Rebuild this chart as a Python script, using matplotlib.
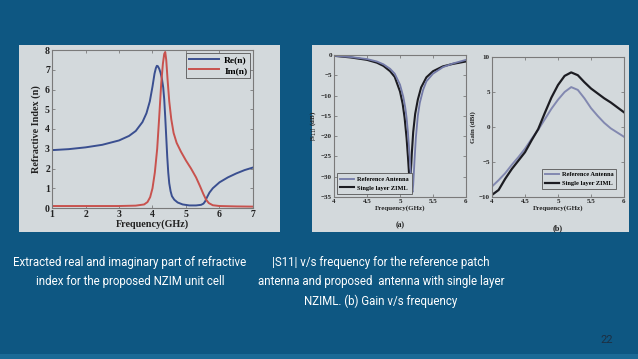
import matplotlib
matplotlib.use("Agg")
import matplotlib.pyplot as plt
from matplotlib.patches import Rectangle

# ---------------- data ----------------
f_re = [1.0, 1.5, 2.0, 2.5, 3.0, 3.3, 3.5, 3.7, 3.82, 3.92, 4.0, 4.06, 4.1, 4.13, 4.16,
        4.2, 4.24, 4.28, 4.32, 4.35, 4.38, 4.41, 4.44, 4.47, 4.5, 4.54, 4.58, 4.65, 4.75,
        4.9, 5.1, 5.3, 5.45, 5.52, 5.57, 5.62, 5.7, 5.8, 6.0, 6.25, 6.5, 6.75, 7.0]
re_n = [2.93, 2.98, 3.07, 3.2, 3.42, 3.65, 3.9, 4.35, 4.8, 5.4, 6.15, 6.8, 7.08, 7.2, 7.18,
        7.05, 6.85, 6.55, 6.1, 5.5, 4.6, 3.6, 2.6, 1.8, 1.25, 0.85, 0.6, 0.42, 0.28,
        0.18, 0.13, 0.13, 0.16, 0.22, 0.33, 0.52, 0.78, 1.0, 1.3, 1.55, 1.75, 1.92, 2.05]
f_im = [1.0, 2.0, 3.0, 3.5, 3.75, 3.85, 3.93, 4.0, 4.07, 4.14, 4.2, 4.26, 4.31, 4.35, 4.38,
        4.41, 4.45, 4.5, 4.56, 4.63, 4.72, 4.85, 5.0, 5.15, 5.3, 5.42, 5.52, 5.6, 5.68, 5.8,
        6.0, 6.5, 7.0]
im_n = [0.1, 0.1, 0.1, 0.12, 0.18, 0.3, 0.55, 1.0, 1.8, 3.0, 4.6, 6.3, 7.3, 7.8, 7.9,
        7.5, 6.5, 5.4, 4.5, 3.8, 3.3, 2.85, 2.4, 2.0, 1.55, 1.1, 0.7, 0.42, 0.25, 0.14,
        0.1, 0.08, 0.07]

f_s11_ref = [4.0, 4.25, 4.5, 4.65, 4.75, 4.85, 4.92, 5.0, 5.05, 5.08, 5.1, 5.12, 5.14, 5.16,
             5.18, 5.19, 5.2, 5.22, 5.24, 5.27, 5.3, 5.35, 5.4, 5.5, 5.65, 5.8, 6.0]
s11_ref = [-0.2, -0.5, -1.0, -1.6, -2.3, -3.4, -4.6, -7.3, -10.3, -13, -15.5, -19, -23.5,
           -28.5, -33, -33.8, -32, -26, -20.5, -15, -11.8, -8.6, -6.5, -4.6, -3.0, -2.1, -1.2]
f_s11_sl = [4.0, 4.25, 4.5, 4.65, 4.75, 4.85, 4.92, 5.0, 5.04, 5.07, 5.1, 5.12, 5.14, 5.15,
            5.16, 5.18, 5.2, 5.23, 5.27, 5.32, 5.4, 5.5, 5.65, 5.8, 6.0]
s11_sl = [-0.2, -0.6, -1.2, -1.9, -2.7, -4.0, -5.4, -9.0, -12, -15.5, -20.5, -25, -30, -31.5,
          -30, -24, -19, -14.5, -11, -8, -5.5, -4.0, -2.8, -2.2, -1.6]

f_gain = [4.0, 4.1, 4.2, 4.3, 4.4, 4.5, 4.6, 4.7, 4.8, 4.9, 5.0, 5.1, 5.2, 5.3, 5.4, 5.5,
          5.6, 5.7, 5.8, 5.9, 6.0]
gain_ref = [-8.5, -7.6, -6.6, -5.4, -4.3, -3.1, -1.7, -0.4, 1.1, 2.6, 3.9, 5.0, 5.7, 5.3,
            4.1, 2.7, 1.6, 0.6, -0.2, -0.8, -1.4]
gain_sl = [-9.7, -9.0, -7.4, -6.0, -4.8, -3.6, -1.9, -0.3, 2.0, 4.2, 6.0, 7.3, 7.8, 7.4,
           6.4, 5.5, 4.8, 4.1, 3.5, 2.8, 2.1]

left_ticks_x = [1, 2, 3, 4, 5, 6, 7]
left_ticks_y = [0, 1, 2, 3, 4, 5, 6, 7, 8]
s11_ticks_x = [4, 4.5, 5, 5.5, 6]
s11_tick_labels_x = ["4", "4.5", "5", "5.5", "6"]
s11_ticks_y = [0, -5, -10, -15, -20, -25, -30, -35]
gain_ticks_y = [-10, -5, 0, 5, 10]

caption_left = "Extracted real and imaginary part of refractive\nindex for the proposed NZIM unit cell"
caption_right = ("|S11| v/s frequency for the reference patch\n"
                 "antenna and proposed  antenna with single layer\n"
                 "NZIML. (b) Gain v/s frequency")
page_no = "22"

# ---------------- styles ----------------
BG = "#0e5782"
PANEL = "#d3d9dc"
SERIF = ["Liberation Serif", "DejaVu Serif"]

W, H = 638, 359
fig = plt.figure(figsize=(W / 100, H / 100), dpi=100)
fig.patch.set_facecolor(BG)


def frac_rect(x0, y0, x1, y1):
    return [x0 / W, 1 - y1 / H, (x1 - x0) / W, (y1 - y0) / H]


# panels
for (x0, y0, x1, y1) in [(19, 45, 280, 232), (312, 45, 629, 232)]:
    r = frac_rect(x0, y0, x1, y1)
    fig.patches.append(Rectangle((r[0], r[1]), r[2], r[3], transform=fig.transFigure,
                                 facecolor=PANEL, edgecolor="none", zorder=-10))
# bottom stripe
fig.patches.append(Rectangle((0, 0), 1, 5 / H, transform=fig.transFigure,
                             facecolor="#1b6a96", edgecolor="none", zorder=-10))


def style_axes(ax, fs):
    ax.set_facecolor(PANEL)
    for s in ax.spines.values():
        s.set_color("#7a7a7a")
        s.set_linewidth(0.8)
    ax.tick_params(direction="in", top=True, right=True, length=2.5, width=0.6,
                   colors="#7a7a7a", labelcolor="#222222", labelsize=fs, pad=1.5)
    for lab in ax.get_xticklabels() + ax.get_yticklabels():
        lab.set_fontfamily(SERIF)
        lab.set_fontweight("bold")


# ---- left chart ----
ax1 = fig.add_axes(frac_rect(52, 50, 253, 208))
ax1.plot(f_re, re_n, color="#3a4f90", lw=1.4, label="Re(n)")
ax1.plot(f_im, im_n, color="#c8524e", lw=1.4, label="Im(n)")
ax1.set_xlim(1, 7)
ax1.set_ylim(0, 8)
ax1.set_xticks(left_ticks_x)
ax1.set_yticks(left_ticks_y)
style_axes(ax1, 7)
ax1.set_xlabel("Frequency(GHz)", family=SERIF, weight="bold", fontsize=7.3, labelpad=0.5,
               color="#222222")
ax1.set_ylabel("Refractive Index (n)", family=SERIF, weight="bold", fontsize=7.3, labelpad=3,
               color="#222222")
leg = ax1.legend(loc="upper right", prop={"family": SERIF, "weight": "bold", "size": 6.8},
                 frameon=True, fancybox=False, edgecolor="#555555", framealpha=1,
                 facecolor=PANEL, borderpad=0.3, handlelength=3.2, labelspacing=0.2,
                 borderaxespad=0.3, handletextpad=0.5)
leg.get_frame().set_linewidth(0.6)

# ---- S11 chart ----
ax2 = fig.add_axes(frac_rect(334, 55, 466, 197))
l_sl = ax2.plot(f_s11_sl, s11_sl, color="#1c1c22", lw=1.5, label="Single layer ZIML")[0]
l_ref = ax2.plot(f_s11_ref, s11_ref, color="#737aa8", lw=1.3, label="Reference Antenna")[0]
ax2.set_xlim(4, 6)
ax2.set_ylim(-35, 0)
ax2.set_xticks(s11_ticks_x)
ax2.set_xticklabels(s11_tick_labels_x)
ax2.set_yticks(s11_ticks_y)
style_axes(ax2, 5)
ax2.set_xlabel("Frequency(GHz)", family=SERIF, weight="bold", fontsize=5, labelpad=1,
               color="#222222")
ax2.set_ylabel(r"|S$_{11}$| (dB)", family=SERIF, weight="bold", fontsize=5, labelpad=2,
               color="#222222")
ax2.text(0.5, -0.2, "(a)", transform=ax2.transAxes, ha="center", va="center",
         family=SERIF, weight="bold", fontsize=5.5, color="#222222")
leg2 = ax2.legend(handles=[l_ref, l_sl], loc="lower left",
                  prop={"family": SERIF, "weight": "bold", "size": 4.6},
                  frameon=True, fancybox=False, edgecolor="#555555", framealpha=1,
                  facecolor=PANEL, borderpad=0.5, handlelength=2.2, labelspacing=0.5,
                  borderaxespad=0.5, handletextpad=0.4)
leg2.get_frame().set_linewidth(0.6)

# ---- Gain chart ----
ax3 = fig.add_axes(frac_rect(492, 57, 624, 197))
ax3.plot(f_gain, gain_ref, color="#8288b0", lw=1.4, label="Reference Antenna")
ax3.plot(f_gain, gain_sl, color="#1c1c22", lw=1.6, label="Single layer ZIML")
ax3.set_xlim(4, 6)
ax3.set_ylim(-10, 10)
ax3.set_xticks(s11_ticks_x)
ax3.set_xticklabels(s11_tick_labels_x)
ax3.set_yticks(gain_ticks_y)
style_axes(ax3, 5)
ax3.set_xlabel("Frequency(GHz)", family=SERIF, weight="bold", fontsize=5, labelpad=1,
               color="#222222")
ax3.set_ylabel("Gain (dBi)", family=SERIF, weight="bold", fontsize=5, labelpad=2,
               color="#222222")
ax3.text(0.5, -0.22, "(b)", transform=ax3.transAxes, ha="center", va="center",
         family=SERIF, weight="bold", fontsize=6, color="#222222")
leg3 = ax3.legend(loc="lower right", prop={"family": SERIF, "weight": "bold", "size": 4.6},
                  frameon=True, fancybox=False, edgecolor="#555555", framealpha=1,
                  facecolor=PANEL, borderpad=0.5, handlelength=2.2, labelspacing=0.5,
                  borderaxespad=1.2, handletextpad=0.4)
leg3.get_frame().set_linewidth(0.6)

# ---- captions ----
cap_kw = dict(color="white", family=["Roboto"], fontsize=8.3, linespacing=1.62)
fig.text(130 / W, 1 - 256 / H, caption_left, ha="center", va="top", **cap_kw)
fig.text(381 / W, 1 - 256 / H, caption_right, ha="center", va="top", **cap_kw)
fig.text(607 / W, 1 - 340 / H, page_no, ha="center", va="center", color="#1d2f42",
         family=["Roboto"], fontsize=8)

fig.savefig("out.png", dpi=100, facecolor=BG)
